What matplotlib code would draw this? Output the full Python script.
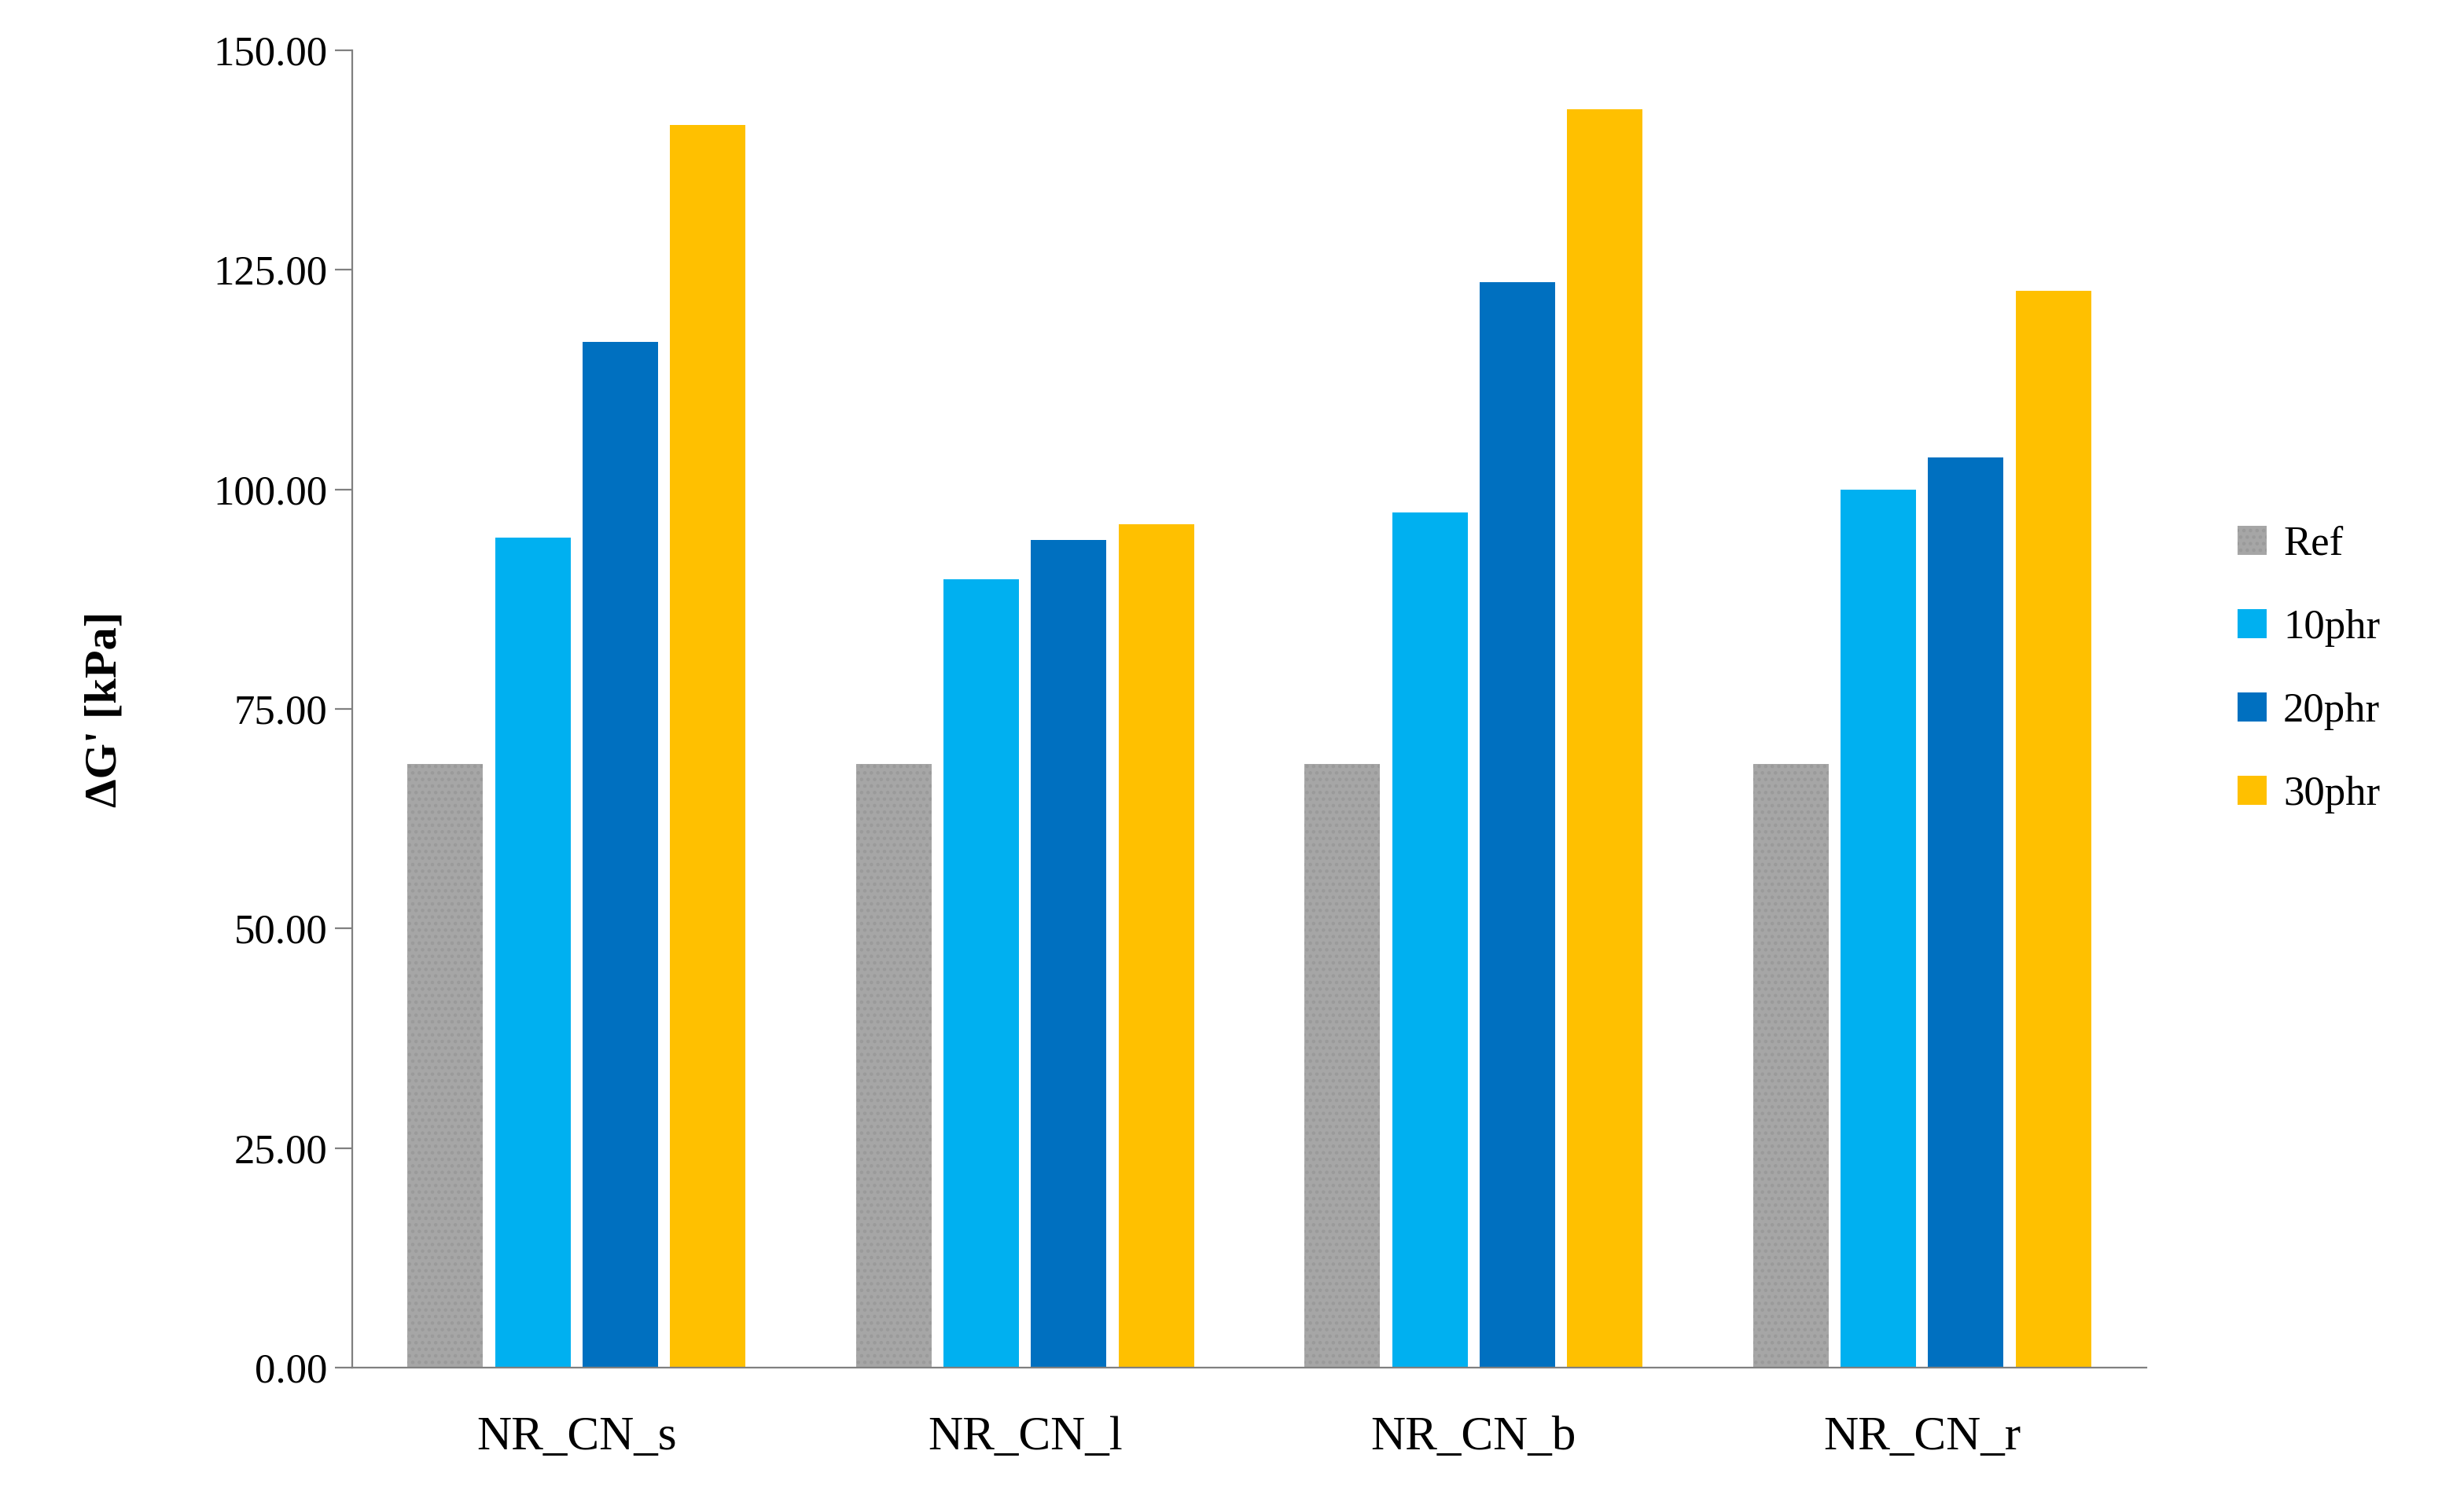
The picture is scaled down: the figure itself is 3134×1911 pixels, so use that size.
import numpy as np
import matplotlib.pyplot as plt

categories = ['NR_CN_s', 'NR_CN_l', 'NR_CN_b', 'NR_CN_r']
series = ['Ref', '10phr', '20phr', '30phr']
ref = [68.7, 68.7, 68.7, 68.7]
phr10 = [94.5, 89.8, 97.4, 100.0]
phr20 = [116.8, 94.2, 123.6, 103.6]
phr30 = [141.5, 96.0, 143.3, 122.6]
colors = ['#a6a6a6', '#00b0f0', '#0070c0', '#ffc000']

plt.rcParams['font.family'] = ['Liberation Serif', 'DejaVu Serif']

fig = plt.figure(figsize=(15.67, 9.555), dpi=200)
ax = fig.add_axes([448 / 3134, 1 - 1740 / 1911, (2730 - 448) / 3134, (1740 - 64) / 1911])

x = np.arange(len(categories))
step = 0.195
width = 0.168
for i, (name, vals) in enumerate(zip(series, [ref, phr10, phr20, phr30])):
    hatch = '....' if name == 'Ref' else None
    ax.bar(x + (i - 1.5) * step, vals, width, color=colors[i], label=name,
           hatch=hatch, edgecolor=colors[i] if hatch is None else '#9a9a9a', linewidth=0)

plt.rcParams['hatch.color'] = '#8c8c8c'
ax.set_xlim(-0.5, 3.5)
ax.set_ylim(0, 150)
ax.set_yticks(np.arange(0, 151, 25))
ax.set_yticklabels([f'{v:.2f}' for v in np.arange(0, 151, 25)])
ax.set_xticks(x)
ax.set_xticklabels(categories, fontsize=22)
ax.tick_params(axis='y', labelsize=19, length=8, color='#808080')
ax.tick_params(axis='x', length=0, pad=22)
for s in ['top', 'right']:
    ax.spines[s].set_visible(False)
for s in ['left', 'bottom']:
    ax.spines[s].set_color('#808080')
ax.set_ylabel("ΔG' [kPa]", fontsize=21, fontweight='bold', labelpad=40)

ax.legend(loc='center left', bbox_to_anchor=(1.03, 0.53), frameon=False,
          fontsize=19, handlelength=0.7, handleheight=0.7, handletextpad=0.4,
          labelspacing=1.1)

fig.savefig('out.png')
